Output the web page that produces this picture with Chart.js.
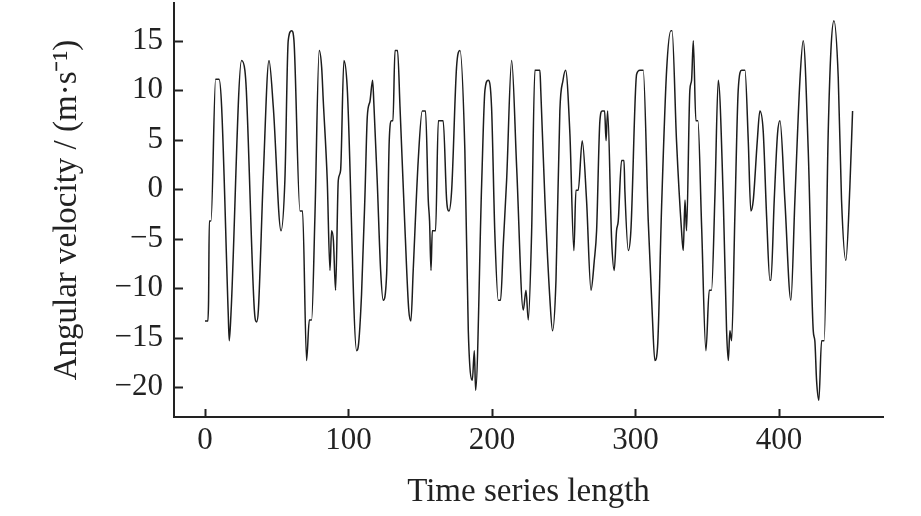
<!DOCTYPE html>
<html>
<head>
<meta charset="utf-8">
<script src="https://cdn.jsdelivr.net/npm/chart.js@4"></script>
<style>
  html, body { margin: 0; padding: 0; background: #fff; }
  #wrap { width: 921px; height: 516px; }
</style>
</head>
<body>
<div id="wrap"><canvas id="chart"></canvas></div>
<script>
// sample index along the series
const timeIndex = [
  0, 2, 2.5, 3, 4.2, 7.4, 9.8, 11.6, 16.2, 16.9, 18.1, 25.5, 27.8, 28.8, 34.4, 36, 37.2, 40.6, 44.6, 47.6,
  53, 55.7, 58, 60.4, 62, 66.2, 68, 70.8, 72.7, 74.3, 76.6, 79.6, 81.3, 82.4, 85.2, 87.1, 88.2, 89.5, 91, 92.9,
  94.5, 96.8, 99.1, 105.7, 106.8, 109.1, 111.5, 113.1, 115, 116.8, 117.7, 120, 122.4, 124.2, 126.6, 128.4, 130, 131, 132.4, 134.2,
  135.9, 139.3, 142, 143.5, 145.1, 148.6, 151.4, 153.7, 155.6, 156.5, 157.5, 158.4, 160.7, 162.6, 166, 168.4, 170, 171.9, 175.3, 177.7,
  181.1, 183.5, 186.3, 187.7, 188.6, 192.8, 195.1, 197.4, 199.7, 202, 204.4, 206, 207.9, 210.2, 213.7, 217.2, 221.8, 223.7, 225.3, 227.6,
  229.9, 233.4, 234, 236.9, 240.4, 242.2, 244.6, 247.3, 249.5, 251.3, 254.3, 257.1, 258.5, 260.1, 262.9, 265.9, 269, 271.3, 272.9, 275.2,
  276.8, 278.5, 279.5, 280.6, 283.4, 285.2, 286.8, 288, 290.3, 292, 292.6, 295, 296.8, 300.8, 303.1, 305.4, 308.9, 311.7, 313.5, 315.4,
  318.2, 321.7, 324.7, 325.5, 328.6, 332.1, 333.3, 334.5, 335.6, 337.9, 339.1, 340.3, 342.1, 343.5, 346.1, 349.1, 351.4, 353, 355.4, 357.7,
  361.2, 363.5, 364.7, 365.8, 367, 369.3, 371.6, 374, 376.3, 378.6, 380.4, 382.1, 384.9, 386.7, 389, 391.4, 393.7, 394.4, 396.7, 399,
  400.7, 404.1, 408.3, 411.1, 414.6, 416.9, 420.4, 423.9, 425, 426.2, 427.8, 429.7, 431.5, 434.3, 436.2, 438.3, 441.3, 443.6, 446.6, 449.4,
  451.3
];

// angular velocity (m·s⁻¹)
const angularVelocity = [
  -13.3, -13.3, -11.2, -3.2, -3.2, 11.1, 11.1, 8.3, -12.6, -15.3, -12.6, 13, 12, 10, -12.2, -13.4, -12.2, 1.2, 13, 8.3,
  -4.2, 1, 15, 16, 15, -2.2, -2.2, -17.3, -13.2, -13.2, -2.8, 14, 12.3, 9, 0.9, -8.2, -4.2, -5.2, -10.2, 0.9,
  1.9, 13, 10.3, -16.3, -15.9, -10.6, -0.5, 7.3, 8.9, 11, 8.6, 0.9, -8.2, -11.2, -8.5, 4.9, 6.9, 6.9, 14, 14,
  8.3, -3.8, -12.2, -13.3, -8.2, 2.9, 7.9, 7.9, -1.1, -3.2, -8.2, -4.2, -4.2, 6.9, 6.9, -1.1, -2.2, -0.1, 12.3, 14,
  3.9, -14.3, -19.3, -16.3, -20.3, 0.5, 10, 11, 8.3, -4.5, -11.2, -11.2, -5.5, 0.9, 13, 2.2, -12.2, -10.2, -13.2, -4.5,
  12, 12, 10, -1.1, -11.2, -14.3, -9.2, 7.9, 11, 12, 5.6, -6.2, -0.1, -0.1, 4.9, -1.1, -10.2, -7.2, -4.2, 6.9,
  7.9, 7.9, 4.9, 7.9, -5.2, -8.2, -4.2, -3.2, 2.9, 2.9, -0.1, -6.2, -4.2, 11.6, 12, 12, -3.2, -12.6, -17.3, -15.9,
  -1.8, 12, 16, 16, 4.9, -4.2, -6.2, -1.1, -4.2, 10, 11, 15, 6.9, 6.9, -3.8, -16.3, -10.2, -10.2, -0.5, 11,
  -1.1, -14.3, -17.3, -14.3, -15.3, -2.5, 10, 12, 12, 4.9, -2.2, -1.1, 4.9, 7.9, 5.9, -2.8, -9.2, -9.2, -1.1, 5.6,
  6.9, -1.1, -11.2, -1.1, 11, 15, 3.9, -14.3, -15.3, -19.3, -21.3, -15.3, -15.3, 5.6, 14, 17, 11.3, -1.1, -7.2, 0.2,
  7.9
];

const xTickValues = [0, 100, 200, 300, 400];
const yTickValues = [-20, -15, -10, -5, 0, 5, 10, 15];

const serif = "'Liberation Serif', 'Times New Roman', serif";
const inkColor = '#222';

const fmt = (v) => (v < 0 ? '\u2212' + Math.abs(v) : String(v));

// ticks in the reference point into the plot
const innerTicks = {
  id: 'innerTicks',
  afterDraw(chart) {
    const { ctx, chartArea, scales } = chart;
    ctx.save();
    ctx.strokeStyle = inkColor;
    ctx.lineWidth = 2;
    ctx.beginPath();
    xTickValues.forEach((v) => {
      const px = Math.round(scales.x.getPixelForValue(v)) + 0.5;
      ctx.moveTo(px, chartArea.bottom);
      ctx.lineTo(px, chartArea.bottom - 8);
    });
    yTickValues.forEach((v) => {
      const py = Math.round(scales.y.getPixelForValue(v)) + 0.5;
      ctx.moveTo(chartArea.left, py);
      ctx.lineTo(chartArea.left + 9, py);
    });
    ctx.stroke();
    ctx.restore();
  },
};

new Chart(document.getElementById('chart'), {
  type: 'line',
  data: {
    labels: timeIndex,
    datasets: [
      {
        data: timeIndex.map((t, i) => ({ x: t, y: angularVelocity[i] })),
        borderColor: '#1c1c1c',
        borderWidth: 1.5,
        pointRadius: 0,
        tension: 0.3,
        cubicInterpolationMode: 'monotone',
        fill: false,
      },
    ],
  },
  options: {
    responsive: true,
    maintainAspectRatio: false,
    animation: false,
    layout: { padding: { top: 3, right: 38, left: 0, bottom: 0 } },
    plugins: { legend: { display: false }, tooltip: { enabled: false } },
    scales: {
      x: {
        type: 'linear',
        min: -21.6,
        max: 472.5,
        afterBuildTicks: (scale) => {
          scale.ticks = xTickValues.map((v) => ({ value: v }));
        },
        afterFit: (scale) => {
          scale.height = 99;
          scale.paddingLeft = 0;
          scale.paddingRight = 0;
        },
        grid: { display: false, drawTicks: false },
        border: { display: true, color: inkColor, width: 2 },
        ticks: {
          padding: 5,
          maxRotation: 0,
          color: inkColor,
          font: { family: serif, size: 31 },
          callback: (v) => fmt(v),
        },
        title: {
          display: true,
          text: 'Time series length',
          color: inkColor,
          font: { family: serif, size: 33 },
          padding: { top: 0, bottom: 4 },
        },
      },
      y: {
        type: 'linear',
        min: -23,
        max: 18.8,
        afterBuildTicks: (scale) => {
          scale.ticks = yTickValues.map((v) => ({ value: v }));
        },
        afterFit: (scale) => {
          scale.width = 174;
          scale.paddingTop = 0;
          scale.paddingBottom = 0;
        },
        grid: { display: false, drawTicks: false },
        border: { display: true, color: inkColor, width: 2 },
        ticks: {
          padding: 11,
          color: inkColor,
          font: { family: serif, size: 31 },
          callback: (v) => fmt(v),
        },
        title: {
          display: true,
          text: 'Angular velocity / (m·s⁻¹)',
          color: inkColor,
          font: { family: serif, size: 33 },
          padding: { top: 48, bottom: 0 },
        },
      },
    },
  },
  plugins: [innerTicks],
});
</script>
</body>
</html>
